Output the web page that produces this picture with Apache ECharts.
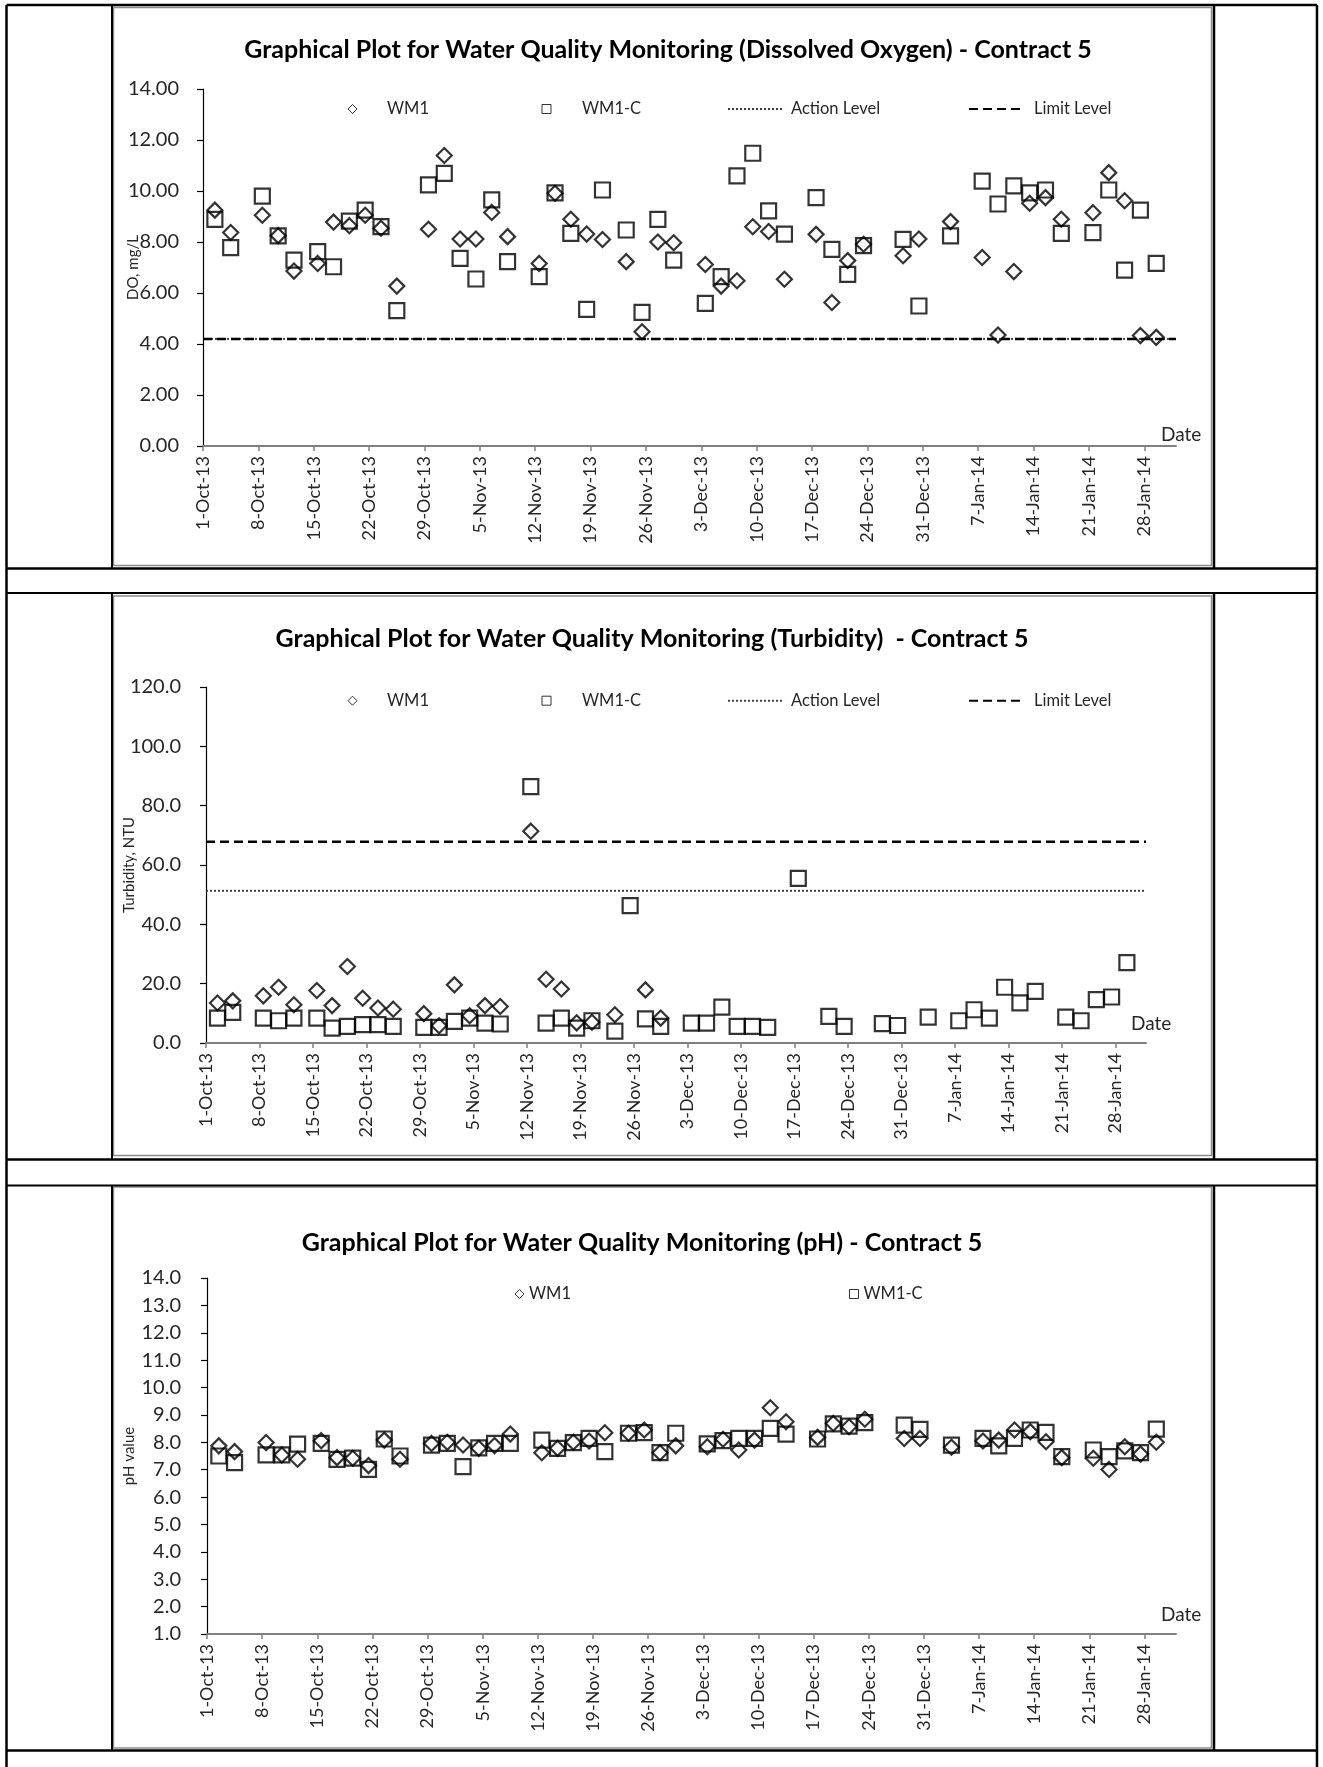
<!DOCTYPE html>
<html><head><meta charset="utf-8">
<script src="https://cdn.jsdelivr.net/npm/echarts@6/dist/echarts.min.js"></script>
<style>html,body{margin:0;padding:0;background:#fff}#c{width:1323px;height:1767px}</style>
</head><body><div id="c"></div>
<script>
// ---------------- DATA ----------------
const sampleDates = [
  '2-Oct-13','4-Oct-13','8-Oct-13','10-Oct-13','12-Oct-13','15-Oct-13','17-Oct-13','19-Oct-13','21-Oct-13','23-Oct-13','25-Oct-13','29-Oct-13','31-Oct-13',
  '2-Nov-13','4-Nov-13','6-Nov-13','8-Nov-13','12-Nov-13','14-Nov-13','16-Nov-13','18-Nov-13','20-Nov-13','23-Nov-13','25-Nov-13','27-Nov-13','29-Nov-13',
  '3-Dec-13','5-Dec-13','7-Dec-13','9-Dec-13','11-Dec-13','13-Dec-13','17-Dec-13','19-Dec-13','21-Dec-13','23-Dec-13','28-Dec-13','30-Dec-13',
  '3-Jan-14','7-Jan-14','9-Jan-14','11-Jan-14','13-Jan-14','15-Jan-14','17-Jan-14','21-Jan-14','23-Jan-14','25-Jan-14','27-Jan-14','29-Jan-14'
];
const tickLabels = ['1-Oct-13','8-Oct-13','15-Oct-13','22-Oct-13','29-Oct-13','5-Nov-13','12-Nov-13','19-Nov-13','26-Nov-13',
  '3-Dec-13','10-Dec-13','17-Dec-13','24-Dec-13','31-Dec-13','7-Jan-14','14-Jan-14','21-Jan-14','28-Jan-14'];
const axisStart = '1-Oct-13';
const axisEnd = '1-Feb-14';

const doWM1 = [9.25,8.37,9.05,8.25,6.86,7.16,8.78,8.64,9.05,8.54,6.27,8.50,11.39,
  8.12,8.12,9.16,8.21,7.16,9.91,8.89,8.31,8.10,7.23,4.48,8.00,7.97,
  7.12,6.27,6.48,8.60,8.41,6.54,8.30,5.63,7.27,7.91,7.46,8.12,
  8.80,7.39,4.35,6.84,9.52,9.74,8.89,9.15,10.72,9.62,4.33,4.26];
const doWM1C = [8.89,7.78,9.80,8.24,7.29,7.62,7.03,8.82,9.25,8.60,5.31,10.24,10.69,
  7.36,6.55,9.65,7.23,6.64,9.93,8.34,5.36,10.04,8.47,5.24,8.89,7.29,
  5.59,6.64,10.59,11.48,9.22,8.31,9.74,7.71,6.73,7.86,8.10,5.49,
  8.24,10.39,9.49,10.20,9.93,10.04,8.34,8.37,10.04,6.90,9.25,7.16];
const turbWM1 = [13.5,14.2,15.9,18.8,12.9,17.7,12.6,25.8,15.1,11.8,11.4,9.9,5.8,
  19.6,9.2,12.6,12.3,71.4,21.5,18.2,6.8,7.0,9.5,null,17.9,8.4,
  null,null,null,null,null,null,null,null,null,null,null,null,
  null,null,null,null,null,null,null,null,null,null,null,null];
const turbWM1C = [8.4,10.3,8.4,7.5,8.4,8.4,5.0,5.6,6.2,6.2,5.6,5.3,5.3,
  7.3,8.4,6.7,6.4,86.4,6.7,8.4,5.0,7.5,4.0,46.3,8.1,5.6,
  6.7,6.7,12.1,5.6,5.6,5.3,55.5,null,9.0,5.6,6.5,5.9,
  8.7,7.5,11.2,8.4,18.8,13.5,17.4,8.7,7.5,14.6,15.5,27.1];
const phWM1 = [7.87,7.66,7.99,7.54,7.38,8.06,7.44,7.42,7.15,8.08,7.38,7.96,8.00,
  7.90,7.78,7.88,8.30,7.62,7.78,8.00,8.05,8.35,8.33,8.45,7.62,7.87,
  7.84,8.11,7.72,8.08,9.26,8.75,8.18,8.69,8.57,8.84,8.14,8.14,
  7.82,8.05,8.08,8.45,8.39,8.02,7.44,7.42,7.01,7.84,7.57,8.00];
const phWM1C = [7.50,7.26,7.54,7.54,7.93,7.96,7.38,7.42,7.01,8.12,7.50,7.90,7.96,
  7.11,7.80,7.96,7.96,8.08,7.78,7.99,8.14,7.66,8.33,8.35,7.62,8.33,
  7.94,8.06,8.14,8.14,8.51,8.30,8.12,8.67,8.59,8.72,8.63,8.47,
  7.90,8.14,7.87,8.14,8.45,8.36,7.48,7.72,7.48,7.69,7.62,8.48];
const doLevels = {action: 4.2, limit: 4.2};
const turbLevels = {action: 51.3, limit: 67.8};

// ---------------- HELPERS ----------------
const MONTHS = ['Jan','Feb','Mar','Apr','May','Jun','Jul','Aug','Sep','Oct','Nov','Dec'];
function dayNum(s){ const p = s.split('-'); return Date.UTC(2000 + (+p[2]), MONTHS.indexOf(p[1]), +p[0]) / 86400000; }
const day0 = dayNum(axisStart);
const xMax = dayNum(axisEnd) - day0;
const off = s => dayNum(s) - day0;
function fmtDay(v){ const d = new Date((day0 + v) * 86400000); return d.getUTCDate() + '-' + MONTHS[d.getUTCMonth()] + '-' + String(d.getUTCFullYear()).slice(2); }
const tickVals = tickLabels.map(off);
// Excel date axis draws each daily point in the middle of its day
const pts = vals => sampleDates.map((d, i) => vals[i] == null ? null : [off(d) + 0.5, vals[i]]).filter(Boolean);

const FONT = 'Lato';
const TXT = '#262626';

// ---------------- LAYOUT ----------------
const grids = [
  {left: 203, top: 89, width: 973, height: 357},
  {left: 206, top: 687, width: 940, height: 356},
  {left: 207, top: 1278, width: 969, height: 356}
];
const yCfg = [
  {min: 0, max: 14, interval: 2, dec: 2, name: 'DO, mg/L', margin: 24, nameGap: 62},
  {min: 0, max: 120, interval: 20, dec: 1, name: 'Turbidity, NTU', margin: 25, nameGap: 69},
  {min: 1, max: 14, interval: 1, dec: 1, name: 'pH value', margin: 26, nameGap: 70}
];
const datePad = [2, 10, 10];

const xAxis = grids.map((g, i) => ({
  type: 'value', gridIndex: i, min: 0, max: xMax,
  name: 'Date', nameLocation: 'end', nameGap: -15, nameMoveOverlap: false,
  nameTextStyle: {fontFamily: FONT, fontSize: 19, color: TXT, align: 'left', verticalAlign: 'bottom', padding: [0, 0, datePad[i], 0]},
  axisLine: {show: true, lineStyle: {color: '#808080', width: 2}},
  axisTick: {show: true, inside: false, length: 5, customValues: tickVals, lineStyle: {color: '#808080', width: 1.5}},
  axisLabel: {show: true, rotate: 90, margin: 10, customValues: tickVals, formatter: v => fmtDay(v),
    fontFamily: FONT, fontSize: 18, color: TXT},
  splitLine: {show: false}
}));
const yAxis = yCfg.map((c, i) => ({
  type: 'value', gridIndex: i, min: c.min, max: c.max, interval: c.interval,
  name: c.name, nameLocation: 'middle', nameGap: c.nameGap, nameRotate: 90, nameMoveOverlap: false,
  nameTextStyle: {fontFamily: FONT, fontSize: 15, color: TXT},
  axisLine: {show: true, lineStyle: {color: '#000', width: 1.2}},
  axisTick: {show: true, inside: false, length: 6, lineStyle: {color: '#000', width: 1.2}},
  axisLabel: {margin: c.margin, formatter: v => v.toFixed(c.dec), fontFamily: FONT, fontSize: 20, color: TXT},
  splitLine: {show: false}
}));

const markerStyle = {color: 'rgba(0,0,0,0)', borderColor: '#000', borderWidth: 2.2};
function scatter(name, symbol, vals, gi){
  return {type: 'scatter', name, xAxisIndex: gi, yAxisIndex: gi, symbol, symbolSize: 15,
    itemStyle: markerStyle, data: pts(vals), silent: true, z: symbol === 'rect' ? 3 : 4};
}
const actionStyle = {color: '#404040', width: 2, type: [2, 2]};
const limitStyle = {color: '#000', width: 2.5, type: [9, 5]};
function level(name, v, gi, style){
  return {type: 'line', name, xAxisIndex: gi, yAxisIndex: gi, symbol: 'none', silent: true,
    itemStyle: {color: 'rgba(0,0,0,0)', borderWidth: 0},
    lineStyle: style, data: [[0, v], [xMax, v]], z: 2};
}

const series = [
  scatter('WM1', 'diamond', doWM1, 0), scatter('WM1-C', 'rect', doWM1C, 0),
  level('Action Level', doLevels.action, 0, actionStyle), level('Limit Level', doLevels.limit, 0, limitStyle),
  scatter('WM1', 'diamond', turbWM1, 1), scatter('WM1-C', 'rect', turbWM1C, 1),
  level('Action Level', turbLevels.action, 1, actionStyle), level('Limit Level', turbLevels.limit, 1, limitStyle),
  scatter('WM1', 'diamond', phWM1, 2), scatter('WM1-C', 'rect', phWM1C, 2)
];

const lgText = pad => ({fontFamily: FONT, fontSize: 16.5, color: TXT, lineHeight: 18, padding: [0, 0, 0, pad]});
function lg(name, left, top, opts){
  return Object.assign({
    data: [name], left, top, padding: 0, orient: 'horizontal', selectedMode: false,
    itemWidth: 9, itemHeight: 9,
    itemStyle: {color: 'rgba(0,0,0,0)', borderColor: '#000', borderWidth: 1},
    textStyle: lgText(0)
  }, opts || {});
}
const hiddenSym = {color: 'rgba(0,0,0,0)', borderColor: 'rgba(0,0,0,0)', borderWidth: 0};
const legends = [];
[100, 691.7].forEach(t => {
  legends.push(lg('WM1', 347.5, t, {textStyle: lgText(25)}));
  legends.push(lg('WM1-C', 541.5, t, {textStyle: lgText(26)}));
  legends.push(lg('Action Level', 727, t, {itemWidth: 54, itemStyle: hiddenSym, textStyle: lgText(4)}));
  legends.push(lg('Limit Level', 968, t, {itemWidth: 55, itemStyle: hiddenSym, textStyle: lgText(5)}));
});
legends.push(lg('WM1', 514.5, 1285));
legends.push(lg('WM1-C', 849, 1285));

const titleStyle = {fontFamily: FONT, fontSize: 25, fontWeight: 'bold', color: '#000'};
const titles = [
  {text: 'Graphical Plot for Water Quality Monitoring (Dissolved Oxygen) - Contract 5', left: 663, top: 32, textAlign: 'center', textStyle: titleStyle},
  {text: 'Graphical Plot for Water Quality Monitoring (Turbidity)  - Contract 5', left: 647, top: 621, textAlign: 'center', textStyle: titleStyle},
  {text: 'Graphical Plot for Water Quality Monitoring (pH) - Contract 5', left: 637, top: 1225, textAlign: 'center', textStyle: titleStyle}
];

// page table + chart frames (decoration)
const graphic = [];
const L = (x1, y1, x2, y2, w) => graphic.push({type: 'line', silent: true, z: 100,
  shape: {x1, y1, x2, y2}, style: {stroke: '#000', lineWidth: w}});
L(6.5, 5, 6.5, 1767, 2.5);          // outer left
L(1317, 5, 1317, 1767, 2.5);        // outer right
L(6.5, 5, 1317, 5, 2.5);            // top
[[568.5, 593], [1159.5, 1185.5], [1750.5, null]].forEach(([a, b]) => {
  L(6.5, a, 1317, a, 2.5);
  if (b) L(6.5, b, 1317, b, 2);
});
[[5, 568.5], [593, 1159.5], [1185.5, 1750.5]].forEach(([a, b]) => {
  L(112, a, 112, b, 2);
  L(1214, a, 1214, b, 2.5);
});
[[7.5, 565.5], [596, 1155.5], [1187, 1748]].forEach(([a, b]) => {
  graphic.push({type: 'rect', silent: true, z: 99, shape: {x: 113.5, y: a, width: 1098, height: b - a},
    style: {fill: null, stroke: '#8c8c8c', lineWidth: 1.5}});
});

const chart = echarts.init(document.getElementById('c'), null, {renderer: 'canvas'});
chart.setOption({
  backgroundColor: '#fff',
  animation: false,
  title: titles,
  legend: legends,
  grid: grids,
  xAxis, yAxis, series, graphic
});
</script></body></html>
